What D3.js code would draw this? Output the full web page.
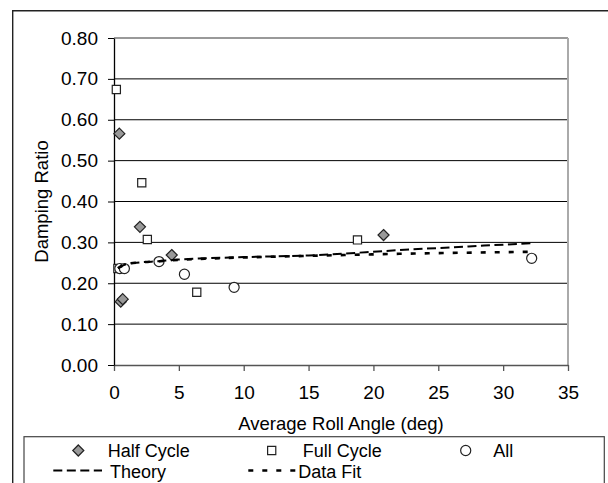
<!DOCTYPE html>
<html>
<head>
<meta charset="utf-8">
<script src="https://cdn.jsdelivr.net/npm/d3@7"></script>
<style>
  body { margin: 0; background: #fff; }
  svg text { font-family: Arial, "Liberation Sans", sans-serif; fill: #000; }
</style>
</head>
<body>
<div id="chart"></div>
<script>
// Series
const halfCycleX = [0.41, 0.52, 0.67, 2.0, 4.45, 20.78];
const halfCycleY = [0.566, 0.155, 0.161, 0.338, 0.269, 0.318];

const fullCycleX = [0.18, 0.3, 2.14, 2.57, 6.38, 18.77];
const fullCycleY = [0.674, 0.236, 0.446, 0.307, 0.178, 0.306];

const allX = [0.45, 0.8, 3.47, 5.43, 9.26, 32.2];
const allY = [0.236, 0.236, 0.253, 0.222, 0.19, 0.261];

const theoryX = [0.3, 1, 2, 3.5, 5, 7, 10, 15, 22, 32.2];
const theoryY = [0.237, 0.247, 0.251, 0.254, 0.258, 0.261, 0.264, 0.268, 0.281, 0.298];

const fitX = [0.3, 1, 2, 3.5, 5, 7, 10, 15, 22, 32.2];
const fitY = [0.237, 0.247, 0.251, 0.254, 0.257, 0.26, 0.263, 0.267, 0.272, 0.277];

const xTicks = [0, 5, 10, 15, 20, 25, 30, 35];
const yTicks = [0, 0.1, 0.2, 0.3, 0.4, 0.5, 0.6, 0.7, 0.8];

const legendItems = ["Half Cycle", "Full Cycle", "All", "Theory", "Data Fit"];

const zip = (xs, ys) => xs.map((x, i) => ({ x: x, y: ys[i] }));

class DampingChart {
  constructor(_config) {
    this.config = {
      parentElement: _config.parentElement,
      containerWidth: _config.containerWidth || 608,
      containerHeight: _config.containerHeight || 483,
      margin: _config.margin || { top: 38, right: 40, bottom: 118, left: 114 },
    };
    this.initVis();
  }

  initVis() {
    let vis = this;

    vis.width = 454;
    vis.height = 327;

    vis.svg = d3
      .select(vis.config.parentElement)
      .append("svg")
      .attr("width", vis.config.containerWidth)
      .attr("height", vis.config.containerHeight);

    // Outer chart frame (runs off the right and bottom edges)
    vis.svg.append("path")
      .attr("d", "M12.7,483 L12.7,10.7 L610,10.7")
      .attr("fill", "none")
      .attr("stroke", "#222")
      .attr("stroke-width", 1.4);

    vis.chart = vis.svg
      .append("g")
      .attr("transform", `translate(${vis.config.margin.left},${vis.config.margin.top})`);

    vis.xScale = d3.scaleLinear().domain([0, 35]).range([0, vis.width]);
    vis.yScale = d3.scaleLinear().domain([0, 0.8]).range([vis.height, 0]);

    // Gridlines
    vis.chart.selectAll(".grid")
      .data(yTicks.filter(d => d > 0 && d < 0.8))
      .join("line")
      .attr("class", "grid")
      .attr("x1", 0)
      .attr("x2", vis.width)
      .attr("y1", d => vis.yScale(d))
      .attr("y2", d => vis.yScale(d))
      .attr("stroke", "#000")
      .attr("stroke-width", 1);

    // Plot area border
    vis.chart.append("line")
      .attr("x1", 0).attr("x2", vis.width)
      .attr("y1", 0).attr("y2", 0)
      .attr("stroke", "#777").attr("stroke-width", 1.3);
    vis.chart.append("line")
      .attr("x1", vis.width).attr("x2", vis.width)
      .attr("y1", 0).attr("y2", vis.height)
      .attr("stroke", "#aaa").attr("stroke-width", 2);

    // Axes
    vis.xAxis = vis.chart.append("g")
      .attr("transform", `translate(0,${vis.height})`)
      .call(d3.axisBottom(vis.xScale).tickValues(xTicks).tickSize(6).tickPadding(15).tickSizeOuter(0));
    vis.yAxis = vis.chart.append("g")
      .call(d3.axisLeft(vis.yScale).tickValues(yTicks).tickFormat(d3.format(".2f")).tickSize(6).tickPadding(10).tickSizeOuter(0));

    vis.xAxis.select(".domain").attr("stroke", "#555").attr("stroke-width", 1.3);
    vis.xAxis.selectAll(".tick line").attr("stroke", "#555").attr("stroke-width", 1.3);
    vis.yAxis.select(".domain").attr("stroke", "#000").attr("stroke-width", 1.3);
    vis.yAxis.selectAll(".tick line").attr("stroke", "#000");
    vis.svg.selectAll(".tick text").style("font-size", "19px");

    // Axis titles
    vis.svg.append("text")
      .attr("x", vis.config.margin.left + vis.width / 2)
      .attr("y", 429.5)
      .attr("text-anchor", "middle")
      .style("font-size", "18.5px")
      .text("Average Roll Angle (deg)");

    vis.svg.append("text")
      .attr("transform", "rotate(-90)")
      .attr("x", -(vis.config.margin.top + vis.height / 2))
      .attr("y", 47.7)
      .attr("text-anchor", "middle")
      .style("font-size", "18.5px")
      .text("Damping Ratio");

    vis.symbols = {
      half: d3.symbol().type(d3.symbolDiamond2).size(78),
      full: d3.symbol().type(d3.symbolSquare2).size(85),
      all: d3.symbol().type(d3.symbolCircle).size(80),
    };
  }

  drawMarkers(data, cls, symbol, fill, stroke) {
    let vis = this;
    vis.chart.selectAll("." + cls)
      .data(data)
      .join("path")
      .attr("class", cls)
      .attr("d", symbol)
      .attr("transform", d => `translate(${vis.xScale(d.x)},${vis.yScale(d.y)})`)
      .attr("fill", fill)
      .attr("stroke", stroke)
      .attr("stroke-width", 1.2);
  }

  updateVis() {
    let vis = this;

    vis.drawMarkers(zip(halfCycleX, halfCycleY), "half", vis.symbols.half, "#999", "#222");
    vis.drawMarkers(zip(fullCycleX, fullCycleY), "full", vis.symbols.full, "#fff", "#222");
    vis.drawMarkers(zip(allX, allY), "all", vis.symbols.all, "#fff", "#222");

    const line = d3.line()
      .x(d => vis.xScale(d.x))
      .y(d => vis.yScale(d.y))
      .curve(d3.curveMonotoneX);

    vis.chart.append("path")
      .datum(zip(theoryX, theoryY))
      .attr("d", line)
      .attr("fill", "none")
      .attr("stroke", "#000")
      .attr("stroke-width", 2)
      .attr("stroke-dasharray", "9,4.5");

    vis.chart.append("path")
      .datum(zip(fitX, fitY))
      .attr("d", line)
      .attr("fill", "none")
      .attr("stroke", "#000")
      .attr("stroke-width", 2.6)
      .attr("stroke-dasharray", "5,9");

    vis.drawLegend();
  }

  drawLegend() {
    let vis = this;
    const lg = vis.svg.append("g");

    lg.append("rect")
      .attr("x", 24).attr("y", 436.7)
      .attr("width", 580.3).attr("height", 60)
      .attr("fill", "#fff")
      .attr("stroke", "#444")
      .attr("stroke-width", 1.2);

    // Row 1: markers
    const markerRow = [
      { sym: vis.symbols.half, fill: "#999", mx: 78.3, tx: 107.7 },
      { sym: vis.symbols.full, fill: "#fff", mx: 271.7, tx: 302.7 },
      { sym: vis.symbols.all, fill: "#fff", mx: 465.7, tx: 493.3 },
    ];
    markerRow.forEach((m, i) => {
      lg.append("path")
        .attr("d", m.sym)
        .attr("transform", `translate(${m.mx},450.5)`)
        .attr("fill", m.fill)
        .attr("stroke", "#222")
        .attr("stroke-width", 1.2);
      lg.append("text")
        .attr("x", m.tx).attr("y", 456.5)
        .style("font-size", "18px")
        .text(legendItems[i]);
    });

    // Row 2: lines
    const lineRow = [
      { x1: 53.3, x2: 102, dash: "9,4.5", w: 2, tx: 110 },
      { x1: 248.3, x2: 296, dash: "5,9", w: 2.6, tx: 298.3 },
    ];
    lineRow.forEach((l, i) => {
      lg.append("line")
        .attr("x1", l.x1).attr("x2", l.x2)
        .attr("y1", 470.5).attr("y2", 470.5)
        .attr("stroke", "#000")
        .attr("stroke-width", l.w)
        .attr("stroke-dasharray", l.dash);
      lg.append("text")
        .attr("x", l.tx).attr("y", 477.5)
        .style("font-size", "18px")
        .text(legendItems[i + 3]);
    });
  }
}

const chart = new DampingChart({ parentElement: "#chart" });
chart.updateVis();
</script>
</body>
</html>
